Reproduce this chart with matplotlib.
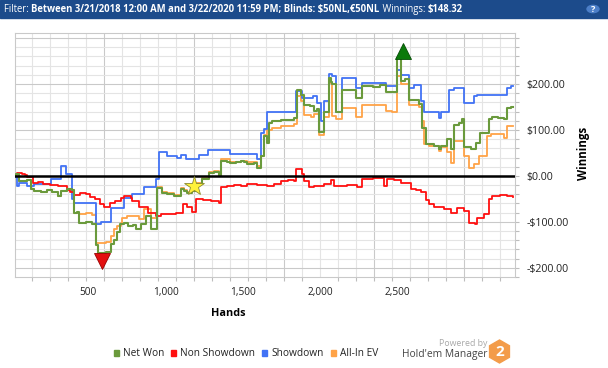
import matplotlib
matplotlib.use("Agg")
import matplotlib.pyplot as plt
from matplotlib.patches import Rectangle, Polygon, Circle
from matplotlib.ticker import MultipleLocator, FixedLocator, FuncFormatter
import numpy as np

plt.rcParams['font.family'] = ['Open Sans', 'DejaVu Sans']

# ---- data ----
net_hands = [0, 10, 25, 40, 70, 92, 110, 150, 180, 210, 240, 258, 290, 322, 330, 345, 360, 400, 430,
             452, 462, 480, 510, 535, 555, 572, 585, 610, 630, 660, 675, 702, 730, 758, 795, 820, 850,
             887, 925, 945, 961, 985, 1008, 1045, 1082, 1110, 1137, 1146, 1180, 1200, 1230, 1257, 1275,
             1294, 1330, 1350, 1368, 1387, 1405, 1415, 1433, 1480, 1520, 1553, 1568, 1590, 1610, 1640,
             1665, 1680, 1693, 1720, 1748, 1758, 1767, 1785, 1822, 1896, 1933, 1990, 2030, 2063, 2100,
             2128, 2146, 2170, 2193, 2248, 2266, 2285, 2331, 2359, 2368, 2405, 2424, 2442, 2470, 2488,
             2498, 2535, 2563, 2590, 2637, 2655, 2690, 2720, 2738, 2757, 2770]
net_won = [0, 4, -12, -10, -8, -29, -32, -34, -30, -35, -43, -32, -28, -30, -80, -78, -103, -100, -105,
           -150, -167, -168, -165, -148, -140, -123, -105, -103, -108, -106, -116, -105, -87, -116, -27, -38, -40,
           -43, -28, -32, -38, -33, -18, -7, 7, 8, 0, 32, 30, 28, 30, 32, 30,
           27, 28, 18, 43, 87, 72, 116, 120, 122, 121, 127, 188, 177, 155, 152,
           141, 145, 95, 140, 214, 205, 200, 138, 188, 170, 195, 193, 197, 183, 182,
           257, 207, 210, 165, 157, 105, 70, 65, 58, 65, 80, 58, 110, 115, 123,
           63, 58, 72, 94, 123, 128, 126, 123, 148, 150, 149]

ev_hands = [0, 10, 25, 40, 70, 92, 110, 150, 180, 210, 240, 258, 290, 322, 330, 360, 400, 430, 452,
            480, 510, 535, 555, 572, 590, 600, 628, 660, 690, 720, 758, 795, 820, 850, 887, 925, 945,
            961, 985, 1008, 1045, 1082, 1110, 1137, 1146, 1200, 1257, 1294, 1350, 1368, 1387, 1405, 1433,
            1480, 1553, 1568, 1590, 1610, 1650, 1665, 1690, 1720, 1748, 1767, 1785, 1822, 1896, 1933,
            2063, 2100, 2128, 2146, 2193, 2248, 2266, 2276, 2303, 2331, 2359, 2368, 2387, 2405, 2424,
            2442, 2498, 2526, 2553, 2581, 2627, 2646, 2700, 2720, 2738, 2770]
all_in_ev = [0, 4, -12, -10, -8, -29, -32, -34, -30, -35, -43, -32, -28, -30, -80, -82, -80, -85, -145,
             -145, -143, -130, -116, -110, -103, -91, -87, -88, -94, -72, -91, -25, -36, -38, -41, -26, -30,
             -36, -31, -16, -5, 9, 11, 3, 36, 30, 32, 30, 22, 43, 90, 100, 105,
             108, 112, 174, 163, 132, 128, 135, 88, 128, 203, 130, 123, 148, 128, 155,
             142, 140, 217, 200, 155, 150, 120, 70, 65, 65, 55, 62, 62, 51, 29,
             76, 43, 17, 25, 43, 87, 92, 92, 83, 109, 108]

ns_hands = [0, 15, 40, 60, 70, 105, 130, 160, 200, 240, 290, 310, 330, 365, 400, 420, 445, 475, 500,
            530, 560, 590, 610, 650, 656, 693, 740, 785, 813, 887, 900, 934, 960, 985, 1008, 1050, 1090,
            1120, 1137, 1146, 1180, 1220, 1260, 1294, 1330, 1350, 1405, 1442, 1480, 1520, 1553, 1563, 1600,
            1610, 1637, 1665, 1720, 1760, 1776, 1850, 1906, 1934, 1990, 2054, 2072, 2110, 2146, 2202,
            2230, 2260, 2285, 2303, 2331, 2387, 2424, 2461, 2498, 2526, 2560, 2572, 2609, 2637, 2655,
            2701, 2740, 2770]
non_showdown = [3, 6, 5, 2, -2, -15, -13, -18, -20, -22, -30, -36, -42, -38, -40, -45, -50, -62, -68,
                -60, -55, -47, -43, -48, -55, -67, -80, -87, -83, -83, -80, -62, -68, -78, -51, -52, -55,
                -55, -58, -25, -23, -20, -21, -18, -17, -20, -22, -17, -10, -8, -10, 15, 5,
                -12, -25, -22, -18, -8, -22, -20, -25, -7, -5, -22, -7, -8, -15, -28,
                -30, -35, -52, -62, -67, -72, -80, -70, -77, -103, -105, -92, -83, -51, -43,
                -42, -44, -46]

sd_hands = [0, 15, 28, 72, 110, 202, 258, 285, 322, 332, 452, 480, 535, 610, 656, 720, 785, 804, 850,
            906, 925, 952, 1026, 1073, 1200, 1350, 1368, 1387, 1405, 1563, 1600, 1660, 1683, 1705, 1720,
            1748, 1767, 1785, 1822, 1896, 1933, 2063, 2128, 2146, 2193, 2220, 2257, 2276, 2359, 2368,
            2414, 2442, 2498, 2553, 2572, 2738, 2757, 2770]
showdown = [-3, -22, -15, -22, -18, -7, 22, 4, -50, -58, -105, -100, -69, -48, -40, -25, -7, 52, 43,
            38, 45, 36, 45, 57, 47, 36, 94, 101, 138, 185, 170, 174, 159, 120, 164,
            221, 217, 138, 214, 192, 202, 195, 230, 220, 192, 197, 163, 138, 127, 138,
            188, 192, 159, 174, 175, 192, 196, 196]

x_tick_labels = ['500', '1,000', '1,500', '2,000', '2,500']
x_label_pos = [410, 840, 1272, 1700, 2128]   # labels sit left of the gridlines in the original
y_tick_vals = [-200, -100, 0, 100, 200]
marker_low = (485, -186)
marker_high = (2157, 272)
marker_star = (1000, -23)

legend_names = ['Net Won', 'Non Showdown', 'Showdown', 'All-In EV']
colors = {'Net Won': '#6A9A3C', 'Non Showdown': '#FF1010',
          'Showdown': '#4172F5', 'All-In EV': '#FFA347'}

W, H = 608, 368
fig = plt.figure(figsize=(W / 100, H / 100), dpi=100)


def fx(px):
    return px / W


def fy(py):
    return 1 - py / H


ax = fig.add_axes([fx(15), fy(277), fx(515) - fx(15), fy(33) - fy(277)])

ax.plot(ev_hands, all_in_ev, drawstyle='steps-post', color=colors['All-In EV'], lw=1.3, zorder=3)
ax.plot(sd_hands, showdown, drawstyle='steps-post', color=colors['Showdown'], lw=1.3, zorder=3)
ax.plot(ns_hands, non_showdown, drawstyle='steps-post', color=colors['Non Showdown'], lw=1.3, zorder=4)
ax.plot(net_hands, net_won, drawstyle='steps-post', color=colors['Net Won'], lw=1.5, zorder=5)
ax.axhline(0, color='black', lw=1.8, zorder=6)

ax.plot(*marker_low, marker='v', ms=11, color='#E31010', mec='#9A0000', mew=0.6, zorder=7, clip_on=False)
ax.plot(*marker_high, marker='^', ms=11, color='#0B7A0B', mec='#064D06', mew=0.6, zorder=7, clip_on=False)
ax.plot(*marker_star, marker='*', ms=15, color='#FFF23A', mec='#8A8A30', mew=0.6, zorder=7)

ax.set_xlim(3, 2782)
ax.set_ylim(-220, 311)

ax.xaxis.set_major_locator(FixedLocator(x_label_pos))
ax.set_xticklabels(x_tick_labels)
ax.xaxis.set_minor_locator(MultipleLocator(100))
ax.tick_params(axis='x', which='major', length=0, pad=7, labelsize=7.3, labelcolor='#222222')
ax.tick_params(axis='x', which='minor', length=3, color='#BDBDBD', width=0.8)

ax.yaxis.tick_right()
ax.yaxis.set_major_locator(FixedLocator(y_tick_vals))
ax.yaxis.set_minor_locator(MultipleLocator(20))
ax.yaxis.set_major_formatter(FuncFormatter(lambda v, p: ('-$%.2f' % -v) if v < 0 else ('$%.2f' % v)))
ax.tick_params(axis='y', which='both', length=3, color='#BDBDBD', width=0.8, pad=5,
               labelsize=7.6, labelcolor='#222222')

# gridlines: vertical every 100 (darker every 500), horizontal every 20 (darker every 100)
for h in range(100, 2800, 100):
    ax.axvline(h, color='#C9C9C9' if h % 500 == 0 else '#E4E4E4', lw=0.8, zorder=1)
for v in range(-200, 311, 20):
    ax.axhline(v, color='#C9C9C9' if v % 100 == 0 else '#E4E4E4', lw=0.8, zorder=1)

for s in ax.spines.values():
    s.set_color('#C9C9C9')
    s.set_linewidth(0.8)

fig.text(fx(228), fy(313), 'Hands', ha='center', va='center', fontsize=7.8, fontweight='bold')
fig.text(fx(583), fy(153), 'Winnings', ha='center', va='center', rotation=90,
         fontsize=8.3, fontweight='bold')

# header bar
fig.patches.append(Rectangle((0, fy(18)), 1, 18 / H, transform=fig.transFigure,
                             color='#1C4B8B', zorder=0))
renderer = fig.canvas.get_renderer()
x0 = 4
for txt, wt in [('Filter: ', 'normal'),
                ('Between 3/21/2018 12:00 AM and 3/22/2020 11:59 PM; Blinds: $50NL,€50NL', 'bold'),
                (' Winnings: ', 'normal'), ('$148.32', 'bold')]:
    t = fig.text(fx(x0), fy(9.5), txt, ha='left', va='center', color='white',
                 fontsize=6.85, fontweight=wt, parse_math=False)
    x0 += t.get_window_extent(renderer).width
fig.patches.append(Circle((fx(593), fy(9)), 6 / W, transform=fig.transFigure,
                          color='#4C7FC8', zorder=1))
fig.text(fx(593), fy(9), '?', ha='center', va='center', color='white', fontsize=6.5, fontweight='bold')

# legend
lx = 114
for name in legend_names:
    fig.patches.append(Rectangle((fx(lx), fy(356)), 5 / W, 6 / H, transform=fig.transFigure,
                                 color=colors[name]))
    t = fig.text(fx(lx + 9), fy(353), name, ha='left', va='center', fontsize=7.3, color='#222222')
    lx += 9 + t.get_window_extent(renderer).width + 7

# logo
fig.text(fx(487), fy(343), 'Powered by', ha='right', va='center', fontsize=6.3, color='#A8A8A8')
fig.text(fx(487), fy(355), "Hold'em Manager", ha='right', va='center', fontsize=7.4, color='#444444')
cx, cy, r = 499.5, 351.5, 11.5
hexagon = [(fx(cx + r * np.sin(a)), fy(cy - r * np.cos(a))) for a in np.arange(6) * np.pi / 3]
fig.patches.append(Polygon(hexagon, closed=True, transform=fig.transFigure, color='#F39C4A'))
fig.text(fx(cx), fy(cy), '2', ha='center', va='center', color='white', fontsize=11, fontweight='bold')

fig.savefig('out.png', dpi=100)
